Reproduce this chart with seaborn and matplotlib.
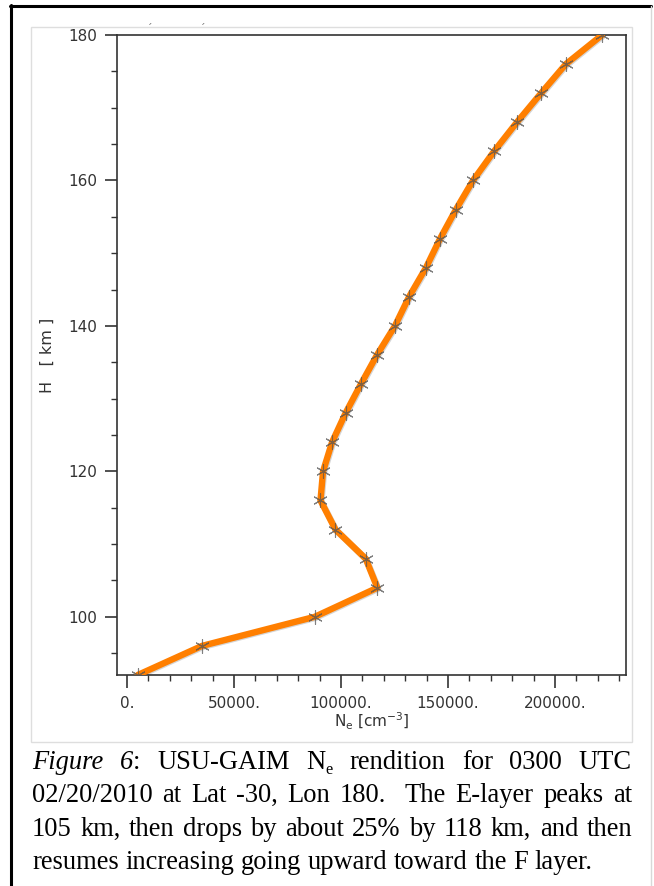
import numpy as np
import pandas as pd
import matplotlib
matplotlib.use("Agg")
import matplotlib.pyplot as plt
import matplotlib.patheffects as pe
from matplotlib.patches import Rectangle
from matplotlib.ticker import MultipleLocator, FixedLocator, FixedFormatter
import seaborn as sns

# ---------------- data ----------------
height_km = [92, 96, 100, 104, 108, 112, 116, 120, 124, 128, 132, 136,
             140, 144, 148, 152, 156, 160, 164, 168, 172, 176, 180]
ne_cm3 = [5000, 35000, 87700, 117000, 111500, 97400, 90400, 91600, 95800,
          102100, 109300, 116800, 125200, 131800, 139700, 146300, 153700,
          161700, 171500, 182200, 193500, 205100, 222000]
x_ticks = [0, 50000, 100000, 150000, 200000]
x_tick_labels = ["0.", "50000.", "100000.", "150000.", "200000."]
y_ticks = [100, 120, 140, 160, 180]
y_tick_labels = ["100", "120", "140", "160", "180"]

caption_lines = [
    [[("Figure", "i")], [("6", "i"), (":", "n")], [("USU-GAIM", "n")],
     [("N", "n"), ("e", "sub")], [("rendition", "n")], [("for", "n")],
     [("0300", "n")], [("UTC", "n")]],
    "02/20/2010 at Lat -30, Lon 180.  The E-layer peaks at",
    "105 km, then drops by about 25% by 118 km, and then",
    "resumes increasing going upward toward the F layer.",
]

df = pd.DataFrame({"Ne": ne_cm3, "H": height_km})

# ---------------- figure ----------------
W, H = 654, 886
sns.set_theme(style="white")
plt.rcParams["font.family"] = ["DejaVu Sans"]
fig = plt.figure(figsize=(W / 100, H / 100), dpi=100)
fig.patch.set_facecolor("white")

def fx(px):
    return px / W

def fy(py):
    return 1 - py / H

# outer border (left/top black, right light)
fig.add_artist(plt.Line2D([fx(11), fx(11)], [fy(5), fy(886)], color="black", lw=2.2, zorder=-2))
fig.add_artist(plt.Line2D([fx(10), fx(651)], [fy(6), fy(6)], color="black", lw=2.2, zorder=-2))
fig.add_artist(plt.Line2D([fx(651), fx(651)], [fy(6), fy(886)], color="#d8d8d8", lw=1.0, zorder=-2))

# light panel behind the chart
fig.add_artist(Rectangle((fx(31), fy(742)), fx(632) - fx(31), fy(27) - fy(742),
                         transform=fig.transFigure, facecolor="white",
                         edgecolor="#dedede", lw=1.0, zorder=-1))

ax = fig.add_axes([fx(117), fy(675), fx(626) - fx(117), fy(35) - fy(675)])
ax.set_zorder(2)
ax.set_facecolor("white")

sns.lineplot(data=df, x="Ne", y="H", ax=ax, sort=False, estimator=None,
             color="#ff7f00", lw=4.6, zorder=3, legend=False,
             path_effects=[pe.SimpleLineShadow(offset=(0.7, -0.7), alpha=0.18),
                           pe.Normal()],
             solid_capstyle="round", solid_joinstyle="round")
sns.scatterplot(data=df, x="Ne", y="H", ax=ax, marker=(6, 2, 0), s=100,
                color="#555555", linewidth=0.8, zorder=4, legend=False, alpha=0.75)

ax.set_xlim(-4700, 233200)
ax.set_ylim(92, 180)
ax.xaxis.set_major_locator(FixedLocator(x_ticks))
ax.xaxis.set_major_formatter(FixedFormatter(x_tick_labels))
ax.xaxis.set_minor_locator(MultipleLocator(10000))
ax.yaxis.set_major_locator(FixedLocator(y_ticks))
ax.yaxis.set_major_formatter(FixedFormatter(y_tick_labels))
ax.yaxis.set_minor_locator(MultipleLocator(5))

spine_c = "#333333"
for s in ax.spines.values():
    s.set_visible(True)
    s.set_color(spine_c)
    s.set_linewidth(1.2)

ax.tick_params(axis="both", which="major", direction="out", length=9, width=1.2,
               color=spine_c, labelsize=11, labelcolor="#333333")
ax.tick_params(axis="both", which="minor", direction="out", length=4.5, width=1.0,
               color=spine_c)
ax.tick_params(axis="x", which="both", bottom=True, top=False, pad=6)
ax.tick_params(axis="y", which="both", left=True, right=False, pad=5)

ax.set_xlabel(r"N$_\mathrm{e}$ [cm$^{-3}$]", fontsize=11, color="#333333", labelpad=0)
ax.set_ylabel("H   [ km ]", fontsize=11.5, color="#333333", labelpad=10)

# small remnant marks above the plot
fig.text(fx(150), fy(29), "ˊ", fontsize=8, color="#777777", ha="center", va="center")
fig.text(fx(203), fy(29), "ˊ", fontsize=8, color="#777777", ha="center", va="center")

# ---------------- caption ----------------
renderer = fig.canvas.get_renderer()
serif = ["Liberation Serif", "DejaVu Serif"]

def piece_kw(style, fs):
    kw = dict(family=serif, color="black", fontsize=fs)
    if style == "i":
        kw["style"] = "italic"
    if style == "sub":
        kw["fontsize"] = fs * 0.62
    return kw

def measure(txt, kw):
    t = fig.text(0, 0, txt, **kw)
    w = t.get_window_extent(renderer).width
    t.remove()
    return w

def words_of(line):
    if isinstance(line, str):
        out = []
        toks = line.split(" ")
        weights = []
        w = 1
        for tok in toks:
            if tok == "":
                w += 1
                continue
            out.append([(tok, "n")])
            weights.append(w)
            w = 1
        return out, weights[1:]
    return line, [1] * (len(line) - 1)

base_fs = 18.0
nat4 = measure(caption_lines[3], piece_kw("n", base_fs))
fs = base_fs * (594 - 32) / nat4
space_w = measure("a a", piece_kw("n", fs)) - measure("aa", piece_kw("n", fs))

left_px, right_px = 32, 632
baselines = [769, 802, 836, 869]
for li, line in enumerate(caption_lines):
    words, weights = words_of(line)
    widths = []
    for w in words:
        widths.append(sum(measure(t, piece_kw(s, fs)) for t, s in w))
    if li < 3:
        gap_total = (right_px - left_px) - sum(widths)
        unit = gap_total / sum(weights)
    else:
        unit = space_w
    x = left_px
    y = baselines[li]
    for wi, w in enumerate(words):
        for t, s in w:
            kw = piece_kw(s, fs)
            dy = 5 if s == "sub" else 0
            fig.text(fx(x), fy(y + dy), t, ha="left", va="baseline", **kw)
            x += measure(t, kw)
        if wi < len(weights):
            x += unit * weights[wi]

fig.savefig("out.png", dpi=100, facecolor="white")
